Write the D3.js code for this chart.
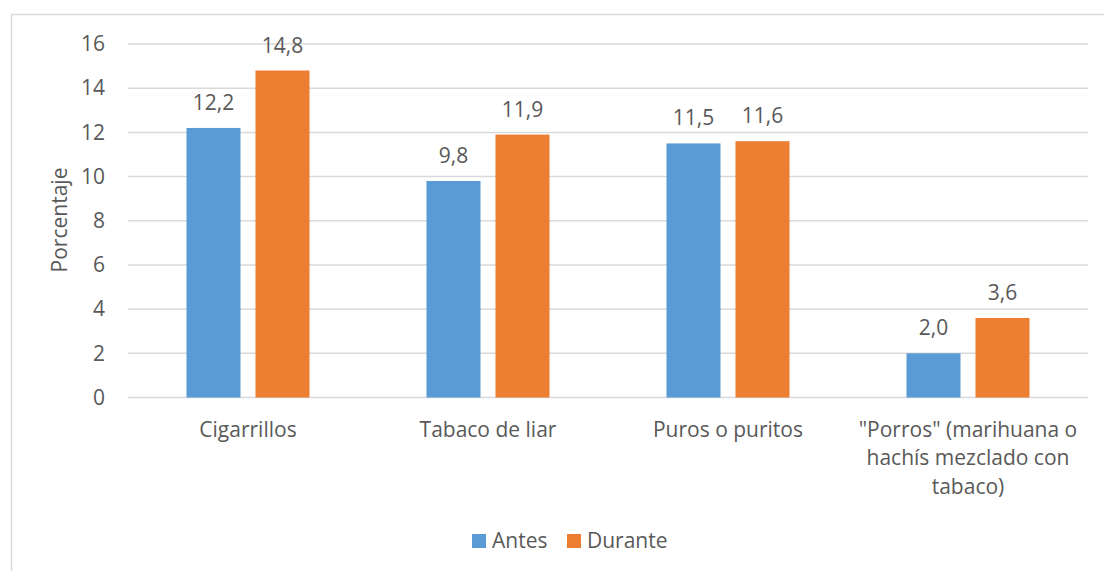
<!DOCTYPE html>
<html lang="es">
<head>
  <meta charset="UTF-8">
  <title>Consumo de tabaco</title>
  <script src="https://d3js.org/d3.v7.min.js"></script>
  <style>
    body { margin: 0; background: #fff; font-family: "Open Sans", sans-serif; }
    svg text { fill: #595959; }
  </style>
</head>
<body>
  <svg width="1104" height="571"></svg>

  <script>
    // data
    const categories = [
      ["Cigarrillos"],
      ["Tabaco de liar"],
      ["Puros o puritos"],
      ["\"Porros\" (marihuana o", "hachís mezclado con", "tabaco)"]
    ];
    const seriesNames = ["Antes", "Durante"];
    const antes = [12.2, 9.8, 11.5, 2.0];
    const durante = [14.8, 11.9, 11.6, 3.6];
    const yTicks = [0, 2, 4, 6, 8, 10, 12, 14, 16];
    const colors = ["#5B9BD5", "#ED7D31"];

    const svg = d3.select("svg");
    const margin = {top: 44, left: 128, right: 16, bottom: 173};
    const width = 1104 - margin.left - margin.right;   // 960
    const fs = "21px";

    // outer chart border (runs off right/bottom like the screenshot)
    svg.append("rect")
      .attr("x", 11.5).attr("y", 14.5)
      .attr("width", 1104).attr("height", 600)
      .attr("fill", "none").attr("stroke", "#D9D9D9").attr("stroke-width", 1.5);

    const g = svg.append("g").attr("transform", `translate(${margin.left},${margin.top})`);

    const x0 = d3.scaleBand()
      .domain(d3.range(categories.length))
      .range([0, width]);

    const x1 = d3.scaleBand()
      .domain(seriesNames)
      .range([x0.bandwidth() / 2 - 61.5, x0.bandwidth() / 2 + 61.5])
      .paddingInner(15 / 69);

    const y = d3.scaleLinear().domain([0, 16]).range([353.5, 0]);

    // gridlines
    g.append("g")
      .selectAll("line")
      .data(yTicks)
      .join("line")
        .attr("x1", 0).attr("x2", width)
        .attr("y1", d => y(d)).attr("y2", d => y(d))
        .attr("stroke", "#D9D9D9").attr("stroke-width", 1.5);

    // y tick labels
    const yAxis = g.append("g")
      .call(d3.axisLeft(y).tickValues(yTicks).tickSize(0).tickPadding(23));
    yAxis.select(".domain").remove();
    yAxis.selectAll("text")
      .style("font-size", fs)
      .style("font-family", "'Open Sans', sans-serif")
      .attr("fill", "#595959");

    // y axis title
    svg.append("text")
      .attr("transform", "translate(67,220) rotate(-90)")
      .attr("text-anchor", "middle")
      .style("font-size", fs)
      .text("Porcentaje");

    const rows = categories.map((c, i) => ({i, values: [antes[i], durante[i]]}));

    const groups = g.append("g")
      .selectAll("g")
      .data(rows)
      .join("g")
        .attr("transform", d => `translate(${x0(d.i)},0)`);

    groups.selectAll("rect")
      .data(d => d.values.map((v, k) => ({key: seriesNames[k], value: v, k})))
      .join("rect")
        .attr("x", d => x1(d.key))
        .attr("y", d => y(d.value))
        .attr("width", x1.bandwidth())
        .attr("height", d => y(0) - y(d.value))
        .attr("fill", d => colors[d.k]);

    groups.selectAll("text.val")
      .data(d => d.values.map((v, k) => ({key: seriesNames[k], value: v})))
      .join("text")
        .attr("class", "val")
        .attr("x", d => x1(d.key) + x1.bandwidth() / 2)
        .attr("y", d => y(d.value) - 18)
        .attr("text-anchor", "middle")
        .style("font-size", fs)
        .text(d => d3.format(".1f")(d.value).replace(".", ","));

    // category labels
    groups.each(function(d) {
      const t = d3.select(this).append("text")
        .attr("text-anchor", "middle")
        .style("font-size", fs);
      categories[d.i].forEach((line, j) => {
        t.append("tspan")
          .attr("x", x0.bandwidth() / 2)
          .attr("y", y(0) + 39 + j * 28.5)
          .text(line);
      });
    });

    // legend
    const legend = svg.append("g").attr("transform", "translate(472,534)");
    const legendX = [0, 95];
    seriesNames.forEach((name, i) => {
      const item = legend.append("g").attr("transform", `translate(${legendX[i]},0)`);
      item.append("rect").attr("width", 14).attr("height", 14).attr("fill", colors[i]);
      item.append("text").attr("x", 20).attr("y", 13.5)
        .style("font-size", fs).text(name);
    });
  </script>
</body>
</html>
